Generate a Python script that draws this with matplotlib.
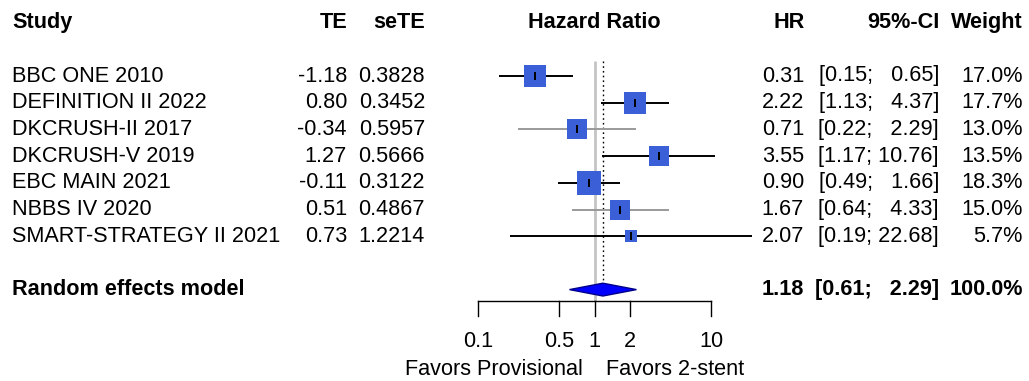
import matplotlib
matplotlib.use("Agg")
import matplotlib.pyplot as plt
import matplotlib.transforms as mtransforms
from matplotlib.patches import Polygon
import numpy as np

# ---- data ----
studies = ["BBC ONE 2010", "DEFINITION II 2022", "DKCRUSH-II 2017", "DKCRUSH-V 2019",
           "EBC MAIN 2021", "NBBS IV 2020", "SMART-STRATEGY II 2021"]
te = ["-1.18", "0.80", "-0.34", "1.27", "-0.11", "0.51", "0.73"]
se_te = ["0.3828", "0.3452", "0.5957", "0.5666", "0.3122", "0.4867", "1.2214"]
hr = [0.31, 2.22, 0.71, 3.55, 0.90, 1.67, 2.07]
ci_low = [0.15, 1.13, 0.22, 1.17, 0.49, 0.64, 0.19]
ci_high = [0.65, 4.37, 2.29, 10.76, 1.66, 4.33, 22.68]
weight = [17.0, 17.7, 13.0, 13.5, 18.3, 15.0, 5.7]

pooled_hr = 1.18
pooled_low = 0.61
pooled_high = 2.29
pooled_label = "Random effects model"

tick_values = [0.1, 0.5, 1, 2, 10]
tick_labels = ["0.1", "0.5", "1", "2", "10"]
label_left = "Favors Provisional"
label_right = "Favors 2-stent"

# ---- figure / layout ----
W, H = 1029, 381
fig = plt.figure(figsize=(W / 100, H / 100), dpi=100)
plt.rcParams["font.family"] = ["Liberation Sans", "DejaVu Sans"]
FS = 15.6

ax = fig.add_axes([0, 0, 1, 1])
ax.set_xscale("log")
px_per_dec = 116.5
x01 = 478.0  # pixel column of HR = 0.1
ax.set_xlim(10 ** (-1 - x01 / px_per_dec), 10 ** (-1 + (W - x01) / px_per_dec))
row_h = 26.7
y0 = 22.6
ax.set_ylim((H - y0) / row_h, -y0 / row_h)
ax.axis("off")

# text columns: x in figure fraction, y in row units
tr = mtransforms.blended_transform_factory(fig.transFigure, ax.transData)


def txt(x, y, s, ha="left", bold=False):
    ax.text(x / W, y, s, transform=tr, ha=ha, va="center", fontsize=FS,
            fontweight="bold" if bold else "normal", color="black")


def fmt_ci(lo, hi):
    hs = f"{hi:.2f}"
    pad = " " * (2 * (5 - len(hs)) + 1)
    return f"[{lo:.2f};{pad}{hs}]"


# header
hdr = 0
txt(12, hdr, "Study", bold=True)
txt(347, hdr, "TE", ha="right", bold=True)
txt(425, hdr, "seTE", ha="right", bold=True)
ax.text(1.0, hdr, "Hazard Ratio", ha="center", va="center", fontsize=FS,
        fontweight="bold")
txt(805, hdr, "HR", ha="right", bold=True)
txt(939, hdr, "95%-CI", ha="right", bold=True)
txt(1023, hdr, "Weight", ha="right", bold=True)

rows = np.arange(len(studies)) + 2
line_cols = ["black", "black", "#9a9a9a", "black", "black", "#9a9a9a", "black"]

# reference lines: no effect (solid grey) and pooled estimate (dotted)
ax.plot([1, 1], [1.44, 10.43], color="#c4c4c4", lw=2.0, zorder=1,
        solid_capstyle="butt")
ax.plot([pooled_hr, pooled_hr], [1.44, 10], color="black", lw=1.0,
        ls=(0, (1.2, 2.2)), zorder=1)

for i, k in enumerate(rows):
    txt(12, k, studies[i])
    txt(347, k, te[i], ha="right")
    txt(425, k, se_te[i], ha="right")
    txt(804, k, f"{hr[i]:.2f}", ha="right")
    txt(939, k, fmt_ci(ci_low[i], ci_high[i]), ha="right")
    txt(1023, k, f"{weight[i]:.1f}%", ha="right")

    ax.plot([ci_low[i], ci_high[i]], [k, k], color=line_cols[i], lw=1.4,
            zorder=2, solid_capstyle="butt")
    side = 5.4 * np.sqrt(weight[i]) * 0.72
    ax.plot([hr[i]], [k], marker="s", ms=side, color="#3b5fd6", mec="#3b5fd6",
            mew=0, ls="none", zorder=3)
    ax.plot([hr[i]], [k], marker="|", ms=5.5, mew=1.4, color="black",
            ls="none", zorder=4)

# pooled estimate
kp = 10
txt(12, kp, pooled_label, bold=True)
txt(804, kp, f"{pooled_hr:.2f}", ha="right", bold=True)
txt(939, kp, fmt_ci(pooled_low, pooled_high), ha="right", bold=True)
txt(1023, kp, "100.0%", ha="right", bold=True)
dh = 0.24
diamond = Polygon([[pooled_low, kp], [pooled_hr, kp - dh], [pooled_high, kp],
                   [pooled_hr, kp + dh]], closed=True, facecolor="#0000ff",
                  edgecolor="#00008b", lw=1.0, zorder=5)
ax.add_patch(diamond)

# x axis
ya = 10.43
ax.plot([tick_values[0], tick_values[-1]], [ya, ya], color="black", lw=1.0,
        zorder=2)
for v, lab in zip(tick_values, tick_labels):
    ax.plot([v, v], [ya, 10.98], color="black", lw=1.0, zorder=2)
    ax.text(v, 11.96, lab, ha="center", va="center", fontsize=FS)

ax.text(0.80, 13.0, label_left, ha="right", va="center", fontsize=FS)
ax.text(1.25, 13.0, label_right, ha="left", va="center", fontsize=FS)

fig.savefig("out.png", dpi=100, facecolor="white")
